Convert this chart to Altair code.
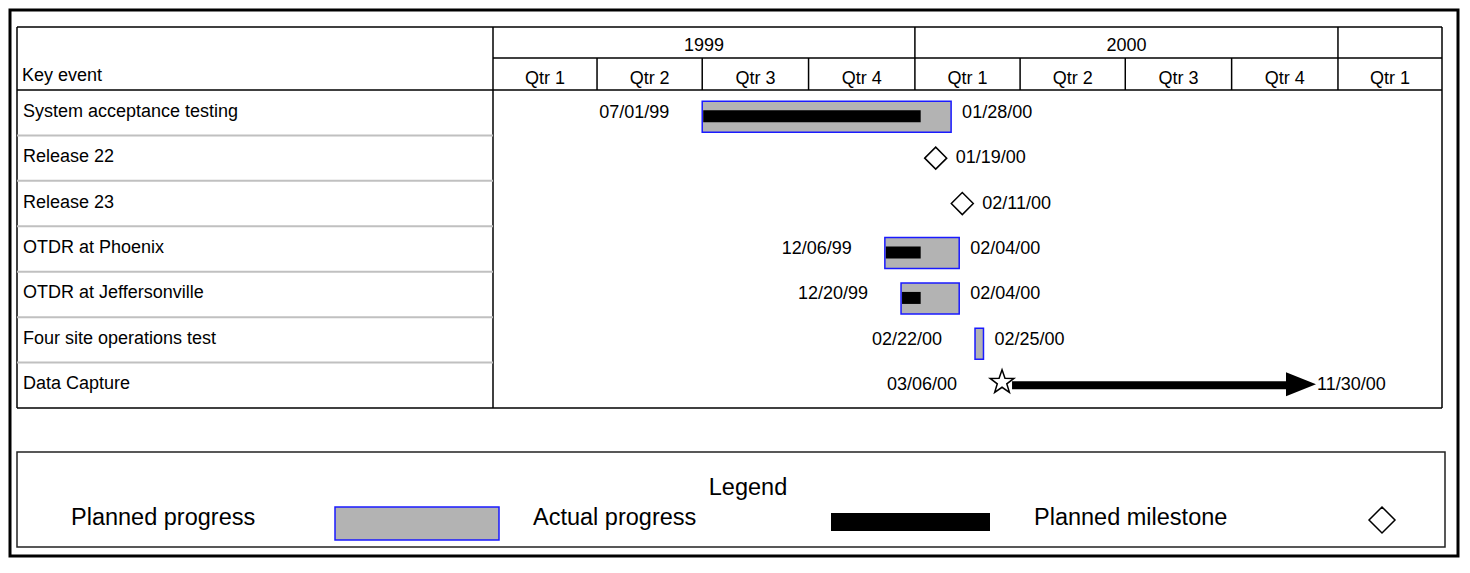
import math
import altair as alt
import pandas as pd

# ---------------- data ----------------
events = ["System acceptance testing", "Release 22", "Release 23", "OTDR at Phoenix",
          "OTDR at Jeffersonville", "Four site operations test", "Data Capture"]
kinds = ["task", "milestone", "milestone", "task", "task", "task", "ongoing"]
starts = ["1999-07-01", None, None, "1999-12-06", "1999-12-20", "2000-02-22", "2000-03-06"]
finishes = ["2000-01-28", "2000-01-19", "2000-02-11", "2000-02-04", "2000-02-04", "2000-02-25", "2000-11-30"]
actual_ends = ["2000-01-06", None, None, "2000-01-06", "2000-01-06", None, None]

quarter_starts = ["1999-01-01", "1999-04-01", "1999-07-01", "1999-10-01",
                  "2000-01-01", "2000-04-01", "2000-07-01", "2000-10-01", "2001-01-01"]
quarter_labels = ["Qtr 1", "Qtr 2", "Qtr 3", "Qtr 4", "Qtr 1", "Qtr 2", "Qtr 3", "Qtr 4", "Qtr 1"]
timeline_end = "2001-04-01"
year_starts = ["1999-01-01", "2000-01-01", "2001-01-01"]
year_labels = ["1999", "2000", ""]

header_text = "Key event"
legend_title = "Legend"
legend_labels = ["Planned progress", "Actual progress", "Planned milestone"]

# ---------------- helpers ----------------
FONT = "Liberation Sans"
BLUE = "#1a1aff"
GRAY = "#b3b3b3"


def ms(d):
    return int(pd.Timestamp(d, tz="UTC").timestamp() * 1000)


def iso_utc(ts):
    return ts.strftime("%Y-%m-%dT%H:%M:%SZ")


def midpoints(st, end):
    s = [pd.Timestamp(x) for x in st]
    e = s[1:] + [pd.Timestamp(end)]
    return [iso_utc(a + (b - a) / 2) for a, b in zip(s, e)]


def fmt(d):
    return None if d is None else pd.Timestamp(d).strftime("%m/%d/%y")


ev_df = pd.DataFrame({
    "event": events, "kind": kinds, "start": starts, "finish": finishes,
    "actual_end": actual_ends,
    "start_label": [fmt(d) for d in starts],
    "finish_label": [fmt(d) for d in finishes],
})
q_df = pd.DataFrame({"label": quarter_labels, "mid": midpoints(quarter_starts, timeline_end)})
y_df = pd.DataFrame({"label": year_labels, "mid": midpoints(year_starts, timeline_end)})

X_SCALE = alt.Scale(type="utc", domain=[ms(quarter_starts[0]), ms(timeline_end)], range=[483, 1432])
Y_SCALE = alt.Scale(type="band", domain=events, range=[80, 398], paddingInner=0, paddingOuter=0)


def X(field):
    return alt.X(field, scale=X_SCALE, axis=None)


def Y(**kw):
    return alt.Y("event:N", scale=Y_SCALE, axis=None, **kw)


ONE = alt.Data(values=[{"o": 0}])


def hrule(y, x1, x2, color="black", width=1.5):
    return alt.Chart(ONE).mark_rule(color=color, strokeWidth=width).encode(
        x=alt.value(x1), x2=alt.value(x2), y=alt.value(y))


def vrule(x, y1, y2, color="black", width=1.5):
    return alt.Chart(ONE).mark_rule(color=color, strokeWidth=width).encode(
        x=alt.value(x), y=alt.value(y1), y2=alt.value(y2))


def text_at(txt, x, y, size, align="left"):
    return alt.Chart(ONE).mark_text(text=txt, font=FONT, fontSize=size, align=align,
                                    baseline="middle", color="black").encode(
        x=alt.value(x), y=alt.value(y))


# star and arrow-head symbol paths (normalised to [-1, 1])
pts = []
for k in range(10):
    ang = math.radians(-90 + 36 * k)
    r = 1.0 if k % 2 == 0 else 0.4
    pts.append(f"{r * math.cos(ang):.3f},{r * math.sin(ang):.3f}")
STAR = "M" + "L".join(pts) + "Z"
ARROW = "M-1,-0.8L1,0L-1,0.8Z"

layers = []

# ---------------- table frame ----------------
layers += [
    hrule(17, 7, 1432),
    hrule(48, 483, 1432),
    hrule(80, 7, 1432),
    hrule(398, 7, 1432),
    vrule(7, 17, 398),
]
layers.append(alt.Chart(pd.DataFrame({"date": [quarter_starts[0], timeline_end]}))
              .mark_rule(color="black", strokeWidth=1.5)
              .encode(x=X("date:T"), y=alt.value(17), y2=alt.value(398)))
layers.append(alt.Chart(pd.DataFrame({"date": year_starts[1:]}))
              .mark_rule(color="black", strokeWidth=1.5)
              .encode(x=X("date:T"), y=alt.value(17), y2=alt.value(48)))
layers.append(alt.Chart(pd.DataFrame({"date": quarter_starts[1:]}))
              .mark_rule(color="black", strokeWidth=1.5)
              .encode(x=X("date:T"), y=alt.value(48), y2=alt.value(80)))
# row separators in the key-event column
layers.append(alt.Chart(ev_df)
              .transform_filter(alt.FieldOneOfPredicate(field="event", oneOf=events[1:]))
              .mark_rule(color="#c0c0c0", strokeWidth=2)
              .encode(y=Y(bandPosition=0), x=alt.value(7), x2=alt.value(483)))

# ---------------- header texts ----------------
layers.append(text_at(header_text, 12, 66, 18))
layers.append(alt.Chart(y_df).mark_text(font=FONT, fontSize=18, align="center", baseline="middle", color="black")
              .encode(x=X("mid:T"), y=alt.value(36), text="label:N"))
layers.append(alt.Chart(q_df).mark_text(font=FONT, fontSize=18, align="center", baseline="middle", color="black")
              .encode(x=X("mid:T"), y=alt.value(69), text="label:N"))

# event names
layers.append(alt.Chart(ev_df).mark_text(font=FONT, fontSize=18, align="left", baseline="middle",
                                         color="black", yOffset=-1)
              .encode(y=Y(), x=alt.value(13), text="event:N"))

# ---------------- gantt marks ----------------
layers.append(alt.Chart(ev_df).transform_filter("datum.kind === 'task'")
              .mark_bar(size=31, yOffset=4, x2Offset=5, fill=GRAY, stroke=BLUE, strokeWidth=1.5)
              .encode(x=X("start:T"), x2="finish:T", y=Y()))
layers.append(alt.Chart(ev_df).transform_filter("isValid(datum.actual_end)")
              .mark_bar(size=12, yOffset=3.5, xOffset=1, color="black")
              .encode(x=X("start:T"), x2="actual_end:T", y=Y()))
layers.append(alt.Chart(ev_df).transform_filter("datum.kind === 'milestone'")
              .mark_point(shape="diamond", size=484, filled=True, fill="white", stroke="black",
                          strokeWidth=1.5, opacity=1)
              .encode(x=X("finish:T"), y=Y()))
layers.append(alt.Chart(ev_df).transform_filter("datum.kind === 'ongoing'")
              .mark_rule(strokeWidth=8, color="black", xOffset=22)
              .encode(x=X("start:T"), x2="finish:T", y=Y()))
layers.append(alt.Chart(ev_df).transform_filter("datum.kind === 'ongoing'")
              .mark_point(shape=STAR, size=625, filled=True, fill="white", stroke="black",
                          strokeWidth=1.5, opacity=1, xOffset=12, yOffset=-3)
              .encode(x=X("start:T"), y=Y()))
layers.append(alt.Chart(ev_df).transform_filter("datum.kind === 'ongoing'")
              .mark_point(shape=ARROW, size=900, filled=True, color="black", opacity=1, yOffset=-1)
              .encode(x=X("finish:T"), y=Y()))

# date labels
layers.append(alt.Chart(ev_df).transform_filter("isValid(datum.start)")
              .mark_text(font=FONT, fontSize=18, align="right", baseline="middle", color="black", dx=-33)
              .encode(x=X("start:T"), y=Y(), text="start_label:N"))
layers.append(alt.Chart(ev_df).transform_filter("datum.kind !== 'milestone'")
              .mark_text(font=FONT, fontSize=18, align="left", baseline="middle", color="black", dx=16)
              .encode(x=X("finish:T"), y=Y(), text="finish_label:N"))
layers.append(alt.Chart(ev_df).transform_filter("datum.kind === 'milestone'")
              .mark_text(font=FONT, fontSize=18, align="left", baseline="middle", color="black", dx=20)
              .encode(x=X("finish:T"), y=Y(), text="finish_label:N"))

# ---------------- legend ----------------
layers.append(alt.Chart(ONE).mark_rect(fillOpacity=0, stroke="#222222", strokeWidth=1.5)
              .encode(x=alt.value(7), x2=alt.value(1435), y=alt.value(442), y2=alt.value(537)))
layers.append(text_at(legend_title, 738, 478, 23.5, align="center"))
layers.append(text_at(legend_labels[0], 61, 507.5, 23.5))
layers.append(alt.Chart(ONE).mark_rect(fill=GRAY, stroke=BLUE, strokeWidth=1.5)
              .encode(x=alt.value(325), x2=alt.value(489), y=alt.value(497), y2=alt.value(530)))
layers.append(text_at(legend_labels[1], 523, 507.5, 23.5))
layers.append(alt.Chart(ONE).mark_rect(fill="black")
              .encode(x=alt.value(821), x2=alt.value(980), y=alt.value(503), y2=alt.value(521)))
layers.append(text_at(legend_labels[2], 1024, 507.5, 23.5))
layers.append(alt.Chart(ONE).mark_point(shape="diamond", size=676, filled=True, fill="white",
                                        stroke="black", strokeWidth=1.5, opacity=1)
              .encode(x=alt.value(1372), y=alt.value(510)))

chart = alt.layer(*layers).properties(
    width=1448, height=546, padding=2,
    autosize=alt.AutoSizeParams(type="none"),
).configure_view(stroke="black", strokeWidth=3)

chart.save("out.html", embed_options={"renderer": "svg", "actions": False})
